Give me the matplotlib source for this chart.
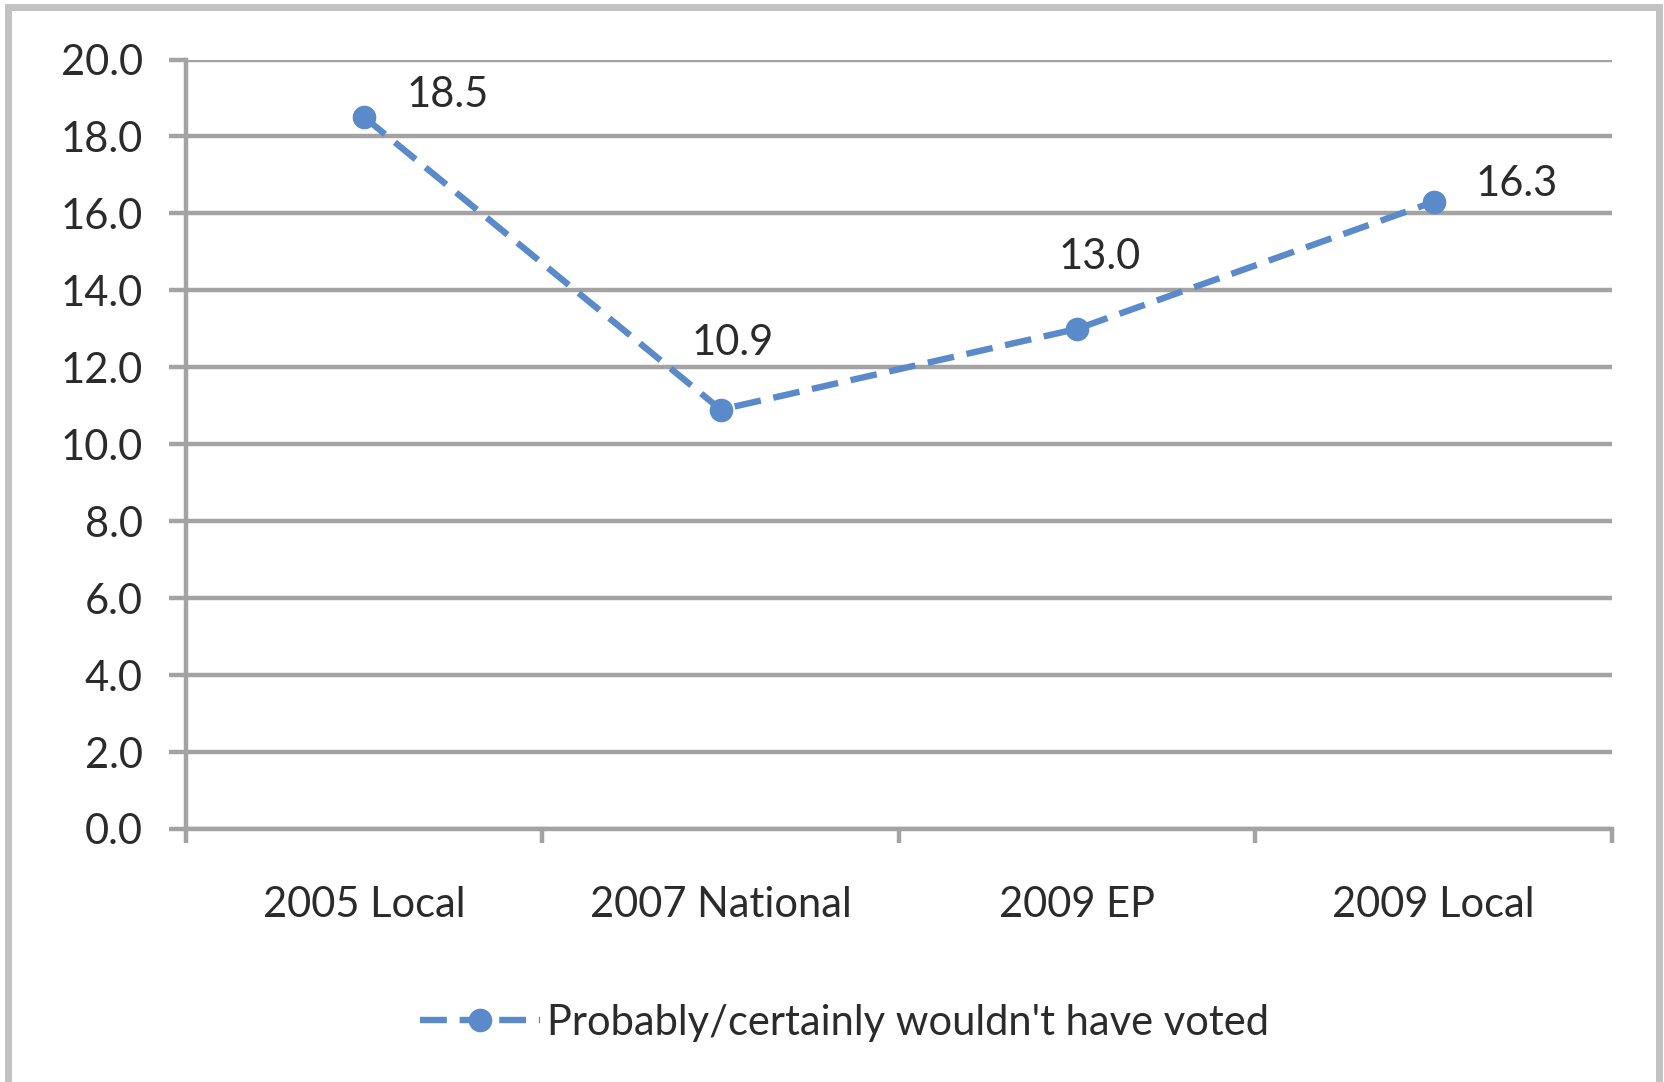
from matplotlib import pyplot as plt
from matplotlib.patches import Rectangle

# data
categories = ['2005 Local', '2007 National', '2009 EP', '2009 Local']
values = [18.5, 10.9, 13.0, 16.3]
series_name = "Probably/certainly wouldn't have voted"
y_ticks = [0, 2, 4, 6, 8, 10, 12, 14, 16, 18, 20]

blue = '#5a8ac9'
grid_gray = '#a3a3a3'
text_col = '#2b2b2b'
fs = 30

plt.rcParams['font.family'] = ['Lato', 'DejaVu Sans']

fig = plt.figure(figsize=(16.65, 10.82), dpi=100)
ax = fig.add_axes([186 / 1665, 1 - 829 / 1082, 1426 / 1665, 769.5 / 1082])

xs = list(range(len(categories)))
line, = ax.plot(xs, values, color=blue, linewidth=4.6, linestyle=(0, (4.2, 2.0)),
                marker='o', markersize=16, label=series_name, zorder=3,
                solid_capstyle='butt', dash_capstyle='butt')

# data labels, placed like excel did it
offsets = [(42, 22, 'left'), (12, 67, 'center'), (22, 72, 'center'), (42, 18, 'left')]
for x, v, (dx, dy, ha) in zip(xs, values, offsets):
    ax.annotate('%.1f' % v, (x, v), xytext=(dx, dy), textcoords='offset pixels',
                ha=ha, va='center', fontsize=fs, color=text_col)

ax.set_xlim(-0.5, len(categories) - 0.5)
ax.set_ylim(0, 20)
ax.set_yticks(y_ticks)
ax.set_yticklabels(['%.1f' % t for t in y_ticks])
ax.set_xticks(xs)
ax.set_xticklabels(categories)
ax.set_xticks([i - 0.5 for i in range(len(categories) + 1)], minor=True)

ax.grid(axis='y', color=grid_gray, linewidth=3.2)
ax.set_axisbelow(True)
for side in ['top', 'right']:
    ax.spines[side].set_visible(False)
for side in ['left', 'bottom']:
    ax.spines[side].set_color(grid_gray)
    ax.spines[side].set_linewidth(3.2)

ax.tick_params(axis='y', direction='out', length=12, width=3.2, color=grid_gray,
               pad=19, labelsize=fs, labelcolor=text_col)
ax.tick_params(axis='x', which='major', length=0, pad=41, labelsize=fs, labelcolor=text_col)
ax.tick_params(axis='x', which='minor', direction='out', length=10, width=3.2, color=grid_gray)

fig.legend(handles=[line], loc='center', bbox_to_anchor=(0.507, 0.0545), frameon=False,
           fontsize=fs, handlelength=2.9, handletextpad=0.15, labelcolor=text_col)

# grey frame round the chart (bottom edge is cut off in the original)
fig.add_artist(Rectangle((8.5 / 1665, -0.05), (1659.5 - 8.5) / 1665, 0.9931 + 0.05,
                         transform=fig.transFigure, fill=False, edgecolor='#c2c2c2',
                         linewidth=5, clip_on=False))

fig.savefig('out.png', dpi=100)
